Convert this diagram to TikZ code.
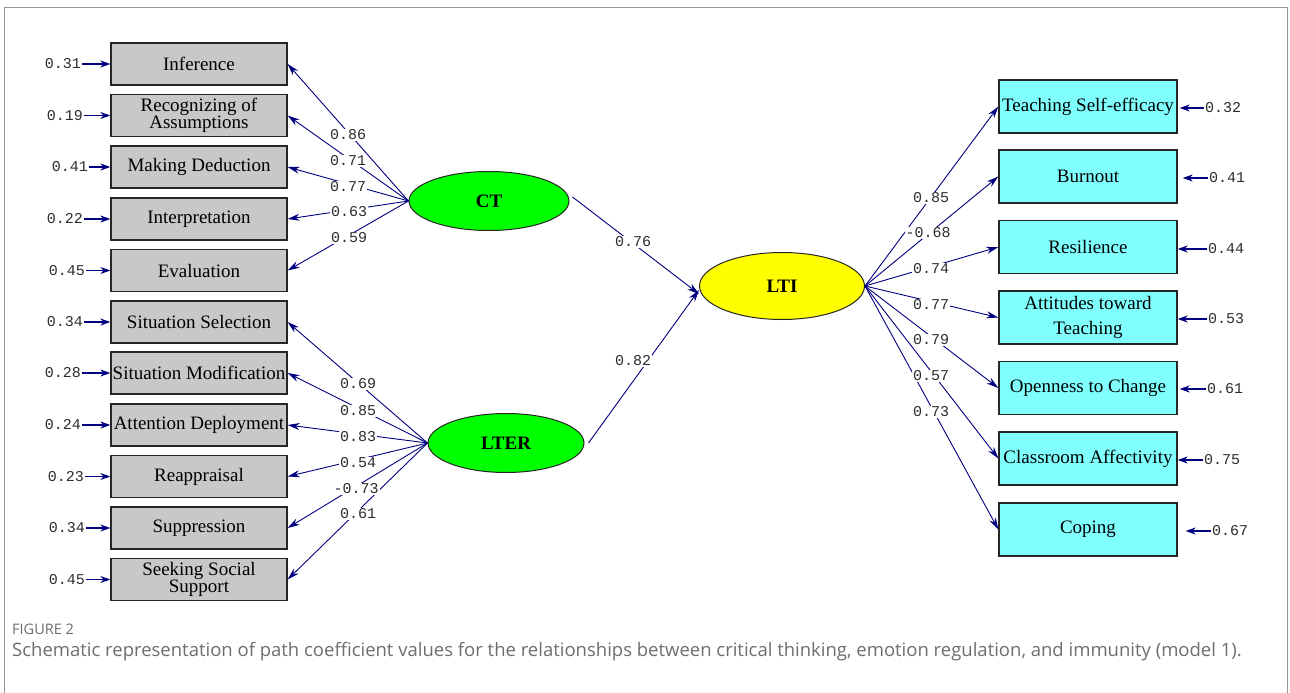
\documentclass[tikz,border=0pt]{standalone}
\usepackage{fontspec}
\setmainfont{Liberation Serif}
\newfontfamily\numfont{Liberation Mono}
\newfontfamily\capfont{Open Sans}
\usetikzlibrary{shapes.geometric,arrows.meta}
\definecolor{navy}{RGB}{0,0,128}
\definecolor{boxgray}{RGB}{200,200,200}
\definecolor{lcyan}{RGB}{128,255,255}
\definecolor{lgreen}{RGB}{0,255,0}
\definecolor{lyellow}{RGB}{255,255,0}
\definecolor{numcol}{RGB}{45,45,45}
\definecolor{capgray}{RGB}{110,110,110}
\definecolor{framegray}{RGB}{150,150,150}
\begin{document}
\begin{tikzpicture}[x=1pt,y=-1pt,
  obsl/.style={draw=black!85, line width=1.3pt, fill=boxgray, minimum width=176pt, minimum height=42pt, inner sep=0pt, align=center, font=\fontsize{19}{17}\selectfont},
  obsr/.style={draw=black!85, line width=1.3pt, fill=lcyan, minimum width=178pt, minimum height=53pt, inner sep=0pt, align=center, font=\fontsize{19}{25}\selectfont},
  latent/.style={ellipse, draw=black!85, line width=1pt, inner sep=0pt, font=\fontsize{19}{19}\selectfont\bfseries},
  coef/.style={font=\numfont\fontsize{15}{15}\selectfont, text=numcol, fill=white, inner sep=1pt},
  errl/.style={font=\numfont\fontsize{15}{15}\selectfont, text=numcol, inner sep=1pt},
  pathar/.style={draw=navy, line width=0.9pt, -{Stealth[length=12pt,width=7pt]}},
  errpath/.style={draw=navy, line width=1.2pt, -{Stealth[length=10pt,width=7pt]}},
]
\useasboundingbox (0,0) rectangle (1290,693);
\fill[white] (0,0) rectangle (1290,693);
\draw[framegray, line width=1pt] (4.5,700) -- (4.5,7.5) -- (1287.5,7.5) -- (1287.5,700);

% left observed boxes
\node[obsl] (inf) at (199,64) {Inference};
\node[obsl] (rec) at (199,115.5) {Recognizing of\\Assumptions};
\node[obsl] (ded) at (199,167) {Making Deduction};
\node[obsl] (int) at (199,219) {Interpretation};
\node[obsl] (eva) at (199,270.5) {Evaluation};
\node[obsl] (ssel) at (199,322) {Situation Selection};
\node[obsl] (smod) at (199,373) {Situation Modification};
\node[obsl] (att) at (199,425) {Attention Deployment};
\node[obsl] (rea) at (199,476.5) {Reappraisal};
\node[obsl] (sup) at (199,528) {Suppression};
\node[obsl] (ssup) at (199,579.5) {Seeking Social\\Support};

% right observed boxes
\node[obsr] (tse) at (1088,106.5) {Teaching Self-efficacy};
\node[obsr] (bur) at (1088,176.5) {Burnout};
\node[obsr] (res) at (1088,247) {Resilience};
\node[obsr] (atc) at (1088,317.5) {Attitudes toward\\Teaching};
\node[obsr] (opc) at (1088,388) {Openness to Change};
\node[obsr] (cla) at (1088,458.5) {Classroom Affectivity};
\node[obsr] (cop) at (1088,529.5) {Coping};

% latent variables
\node[latent, fill=lgreen, minimum width=160pt, minimum height=59pt] (ct) at (489,201) {CT};
\node[latent, fill=lgreen, minimum width=156pt, minimum height=59pt] (lter) at (506,443) {LTER};
\node[latent, fill=lyellow, minimum width=165pt, minimum height=67pt] (lti) at (782,286) {LTI};

% error labels left
\node[errl] (e1) at (63,64) {0.31};
\node[errl] (e2) at (65,115.5) {0.19};
\node[errl] (e3) at (70,167) {0.41};
\node[errl] (e4) at (65,219) {0.22};
\node[errl] (e5) at (67,270.5) {0.45};
\node[errl] (e6) at (65,322) {0.34};
\node[errl] (e7) at (63,373) {0.28};
\node[errl] (e8) at (63,425) {0.24};
\node[errl] (e9) at (66,476.5) {0.23};
\node[errl] (e10) at (67,528) {0.34};
\node[errl] (e11) at (67,579.5) {0.45};
\foreach \e/\b in {e1/inf,e2/rec,e3/ded,e4/int,e5/eva,e6/ssel,e7/smod,e8/att,e9/rea,e10/sup,e11/ssup}
  \draw[errpath] (\e.east) -- (\b.west);

% error labels right
\node[errl] (r1) at (1223,108) {0.32};
\node[errl] (r2) at (1227,178) {0.41};
\node[errl] (r3) at (1226,249) {0.44};
\node[errl] (r4) at (1226,319) {0.53};
\node[errl] (r5) at (1225,389) {0.61};
\node[errl] (r6) at (1222,460) {0.75};
\node[errl] (r7) at (1230,531) {0.67};
\draw[errpath, shorten >=2pt] (r1.west) -- (tse.east |- r1.west);
\draw[errpath, shorten >=5pt] (r2.west) -- (bur.east |- r2.west);
\draw[errpath] (r3.west) -- (res.east |- r3.west);
\draw[errpath] (r4.west) -- (atc.east |- r4.west);
\draw[errpath, shorten >=2pt] (r5.west) -- (opc.east |- r5.west);
\draw[errpath] (r6.west) -- (cla.east |- r6.west);
\draw[errpath, shorten >=8pt] (r7.west) -- (cop.east |- r7.west);

% paths CT
\draw[pathar] (ct.west) -- (inf.east);
\draw[pathar] (ct.west) -- (rec.east);
\draw[pathar] (ct.west) -- (ded.east);
\draw[pathar] (ct.west) -- (int.east);
\draw[pathar] (ct.west) -- (eva.east);
% paths LTER
\draw[pathar] (lter.west) -- (ssel.east);
\draw[pathar] (lter.west) -- (smod.east);
\draw[pathar] (lter.west) -- (att.east);
\draw[pathar] (lter.west) -- (rea.east);
\draw[pathar] (lter.west) -- (sup.east);
\draw[pathar] (lter.west) -- (ssup.east);
% structural paths
\draw[pathar] ([xshift=3pt,yshift=4pt]ct.east) -- ([yshift=-8pt]lti.west);
\draw[pathar] ([xshift=4pt]lter.east) -- ([yshift=-4pt]lti.west);
% paths LTI
\draw[pathar] (lti.east) -- (tse.west);
\draw[pathar] (lti.east) -- (bur.west);
\draw[pathar] (lti.east) -- (res.west);
\draw[pathar] (lti.east) -- (atc.west);
\draw[pathar] (lti.east) -- (opc.west);
\draw[pathar] (lti.east) -- (cla.west);
\draw[pathar] (lti.east) -- (cop.west);

% coefficient labels
\node[coef] (c1) at (348,135) {0.86};
\node[coef] (c2) at (348,161) {0.71};
\node[coef] (c3) at (348,187) {0.77};
\node[coef] (c4) at (349,212) {0.63};
\node[coef] (c5) at (349,238) {0.59};
\node[coef] (c6) at (358,384) {0.69};
\node[coef] (c7) at (358,411) {0.85};
\node[coef] (c8) at (358,437) {0.83};
\node[coef] (c9) at (358,463) {0.54};
\node[coef] (c10) at (356,489) {-0.73};
\node[coef] (c11) at (358,514) {0.61};
\node[coef] (c12) at (633,242) {0.76};
\node[coef] (c13) at (633,361) {0.82};
\node[coef] (c14) at (931,198) {0.85};
\node[coef] (c15) at (928,233) {-0.68};
\node[coef] (c16) at (931,269) {0.74};
\node[coef] (c17) at (931,305) {0.77};
\node[coef] (c18) at (931,340) {0.79};
\node[coef] (c19) at (931,376) {0.57};
\node[coef] (c20) at (931,412) {0.73};

% caption
\node[anchor=west, inner sep=0pt, text=capgray, font=\capfont\fontsize{14.5}{14.5}\selectfont] (fig) at (12,629) {FIGURE 2};
\node[anchor=west, inner sep=0pt, text=capgray, font=\capfont\fontsize{18.5}{18.5}\selectfont] (cap) at (12,652) {Schematic representation of path coefficient values for the relationships between critical thinking, emotion regulation, and immunity (model 1).};
\end{tikzpicture}
\end{document}
